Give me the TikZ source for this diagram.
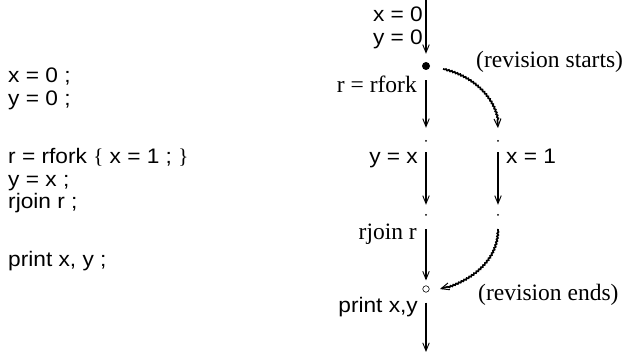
\documentclass[tikz,border=0pt]{standalone}
\usepackage{fontspec}
\setmainfont{Liberation Serif}
\newfontfamily\codesf[FakeStretch=1.08]{Liberation Sans}
\usetikzlibrary{arrows.meta,decorations.pathmorphing}

\tikzset{
  code/.style={anchor=base west, inner sep=0pt, font=\codesf\fontsize{21}{24}\selectfont},
  lbl/.style={anchor=base east, inner sep=0pt, font=\codesf\fontsize{21}{24}\selectfont},
  note/.style={inner sep=0pt, font=\fontsize{23.5}{26}\selectfont},
  dotb/.style={circle, fill, inner sep=0pt, minimum size=8pt},
  dotp/.style={circle, fill, inner sep=0pt, minimum size=2pt},
  dotw/.style={circle, draw, line width=0.6pt, inner sep=0pt, minimum size=6.5pt},
  flow/.style={-{Straight Barb[length=8pt,width=6.5pt,line width=0.9pt]}, line width=1.3pt,
    shorten <=10pt, shorten >=9pt},
  rev/.style={-{Straight Barb[length=8pt,width=7pt,line width=1pt]}, line width=1.7pt,
    decorate, decoration={snake, amplitude=0.6pt, segment length=3pt, pre length=2pt, post length=6pt}},
}

\begin{document}
\begin{tikzpicture}[x=1pt, y=-1pt]
  \useasboundingbox (0,0) rectangle (625,355);

  % program text
  \node[code] (cx) at (8,83) {x = 0 ;};
  \node[code] (cy) at (8,106) {y = 0 ;};
  \node[code] (cfork) at (8,164) {r = rfork {\rmfamily\{} x = 1 ; {\rmfamily\}}};
  \node[code] (cyx) at (8,187) {y = x ;};
  \node[code] (cjoin) at (8,209) {rjoin r ;};
  \node[code] (cprint) at (8,267) {print x, y ;};

  % points of the main thread and the revision
  \coordinate (top) at (426,0);
  \node[dotb] (fork) at (426,66) {};
  \node[dotp] (m1) at (426,141) {};
  \node[dotp] (m2) at (426,215) {};
  \node[dotw] (join) at (426,289) {};
  \coordinate (bot) at (426,352);
  \node[dotp] (r1) at (498,141) {};
  \node[dotp] (r2) at (498,215) {};

  % main thread
  \draw[flow, shorten <=0pt, shorten >=8pt] (top) -- (fork);
  \draw[flow, shorten >=12pt] (fork) -- (m1);
  \draw[flow] (m1) -- (m2);
  \draw[flow, shorten <=13pt, shorten >=5pt] (m2) -- (join);
  \draw[flow, shorten >=0pt] (join) -- (bot);

  % revision
  \coordinate (rs) at ([xshift=17pt,yshift=-3pt]fork.center);
  \coordinate (re) at ([yshift=13pt]r1.center);
  \coordinate (ls) at ([yshift=-14pt]r2.center);
  \coordinate (le) at ([xshift=14pt]join.center);
  \draw[rev] (rs) .. controls +(28,6) and +(0,-30) .. (re);
  \draw[flow] (r1) -- (r2);
  \draw[rev] (ls) .. controls +(0,32) and +(30,-8) .. (le);

  % labels
  \node[lbl] (lx0) at (423,22) {x = 0};
  \node[lbl] (ly0) at (423,45) {y = 0};
  \node[note, anchor=base east] (lfork) at (417,93) {r = rfork};
  \node[lbl] (lyx) at (418,164) {y = x};
  \node[lbl, anchor=base west] (lx1) at (506,164) {x = 1};
  \node[note, anchor=base east] (ljoin) at (417,240) {rjoin r};
  \node[lbl] (lprint) at (418,313) {print x,y};
  \node[note, anchor=base west] (lstart) at (476,68) {(revision starts)};
  \node[note, anchor=base west] (lend) at (478,301) {(revision ends)};
\end{tikzpicture}
\end{document}
